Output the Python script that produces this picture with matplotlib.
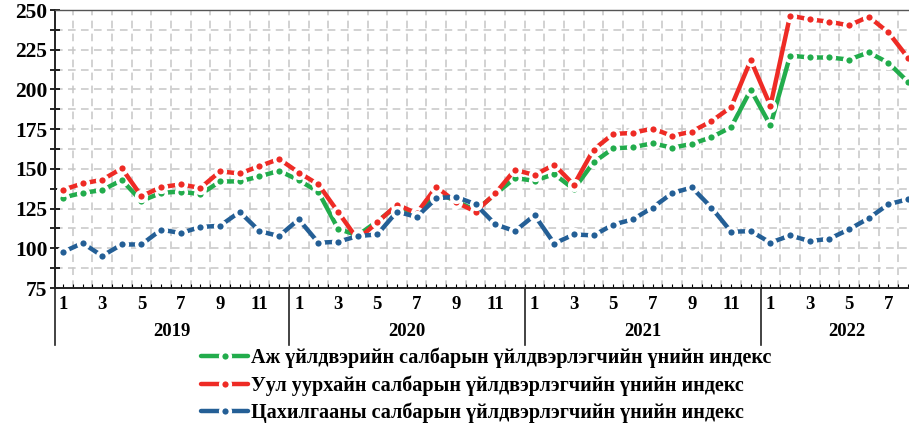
import matplotlib
matplotlib.use("Agg")
import matplotlib.pyplot as plt
import matplotlib.transforms as mtransforms
from matplotlib.lines import Line2D

plt.rcParams['font.family'] = ['Liberation Serif', 'DejaVu Serif']
plt.rcParams['font.weight'] = 'bold'

years = ['2019', '2020', '2021', '2022']
months_per_year = [12, 12, 12, 8]

# index values, Jan 2019 .. Aug 2022
industry = [131.9, 134.9, 136.6, 142.9, 129.8, 134.9, 135.7, 134.0, 142.1, 142.1, 145.2, 148.8,
            142.9, 135.5, 112.3, 108.1, 117.0, 126.7, 121.4, 135.1, 129.8, 123.9, 134.0, 144.2,
            142.5, 146.7, 137.2, 154.1, 162.9, 163.6, 166.1, 163.3, 165.7, 169.9, 176.2, 199.8,
            177.3, 221.3, 220.1, 220.1, 218.8, 223.3, 216.8, 204.7]
mining = [136.8, 140.8, 143.1, 150.3, 132.8, 138.5, 140.2, 138.0, 148.4, 147.1, 151.7, 156.2,
          147.7, 140.2, 122.9, 105.6, 116.3, 127.5, 122.0, 138.7, 129.0, 123.1, 134.5, 149.4,
          146.1, 152.6, 139.9, 162.1, 172.0, 172.6, 175.4, 170.7, 173.5, 180.0, 188.9, 218.4,
          189.7, 246.5, 244.1, 242.6, 240.3, 245.8, 235.9, 219.9]
electricity = [97.6, 103.3, 95.2, 102.4, 102.4, 111.7, 109.6, 113.4, 114.2, 122.9, 110.8, 107.7,
               118.2, 103.5, 104.1, 107.7, 108.7, 123.1, 119.7, 131.5, 132.4, 127.7, 115.1, 110.8,
               120.8, 103.0, 108.7, 108.1, 114.9, 118.2, 125.6, 134.7, 138.3, 125.6, 110.4, 110.8,
               103.5, 108.1, 104.5, 106.0, 111.9, 118.9, 127.7, 130.9]

labels = ['Аж үйлдвэрийн салбарын үйлдвэрлэгчийн үнийн индекс',
          'Уул уурхайн салбарын үйлдвэрлэгчийн үнийн индекс',
          'Цахилгааны салбарын үйлдвэрлэгчийн үнийн индекс']
colors = ['#22ac4c', '#ee2b25', '#245f96']

x = list(range(len(industry)))

fig = plt.figure(figsize=(9.09, 4.24), dpi=100)
ax = fig.add_axes([55 / 909, 1 - 288 / 424, 1 - 55 / 909, (288 - 10) / 424])

for series, label, color in zip([industry, mining, electricity], labels, colors):
    ax.plot(x, series, color=color, lw=3.2, label=label, solid_capstyle='round',
            marker='o', markersize=7.0, markerfacecolor=color,
            markeredgecolor='white', markeredgewidth=2.5, clip_on=False)

ax.set_xlim(-0.4, 43.05)
ax.set_ylim(75, 250)

# y axis
ax.set_yticks(range(75, 251, 25))
ax.set_yticks([87.5 + 25 * i for i in range(7)], minor=True)
ax.tick_params(axis='y', which='both', direction='inout', length=7, width=1.2, labelsize=15.5, pad=2)

# x axis: odd month labels, small ticks every half month
month_pos = []
month_lab = []
i = 0
for n in months_per_year:
    for m in range(1, n + 1):
        if m % 2 == 1:
            month_pos.append(i)
            month_lab.append(str(m))
        i += 1
ax.set_xticks(month_pos)
ax.set_xticklabels(month_lab)
ax.set_xticks([k * 0.5 for k in range(0, 87)], minor=True)
ax.tick_params(axis='x', which='both', direction='in', length=3, width=0.8, labelsize=13.5, pad=6)

# grid
for v in [87.5 + 12.5 * k for k in range(-1, 14)]:
    if 75 < v < 250:
        ax.axhline(v, color='#c6c6c6', lw=1.1, dashes=(5, 3.5), zorder=0)
for k in range(len(x)):
    ax.axvline(k + 0.5, color='#c6c6c6', lw=1.1, dashes=(5, 3.5), zorder=0)

for side in ['left', 'bottom']:
    ax.spines[side].set_linewidth(1.4)
    ax.spines[side].set_color('#222222')
ax.spines['top'].set_linewidth(1.0)
ax.spines['top'].set_color('#555555')
ax.spines['right'].set_visible(False)

# year groups below the axis
trans = mtransforms.blended_transform_factory(ax.transData, ax.transAxes)
sep_bottom = -(345 - 288) / 278
bounds = [-0.4]
start = 0
for n in months_per_year:
    bounds.append(start + n - 0.5)
    start += n
for b in bounds[:-1]:
    ax.add_line(Line2D([b, b], [0, sep_bottom], transform=trans, color='#222222',
                       lw=1.2, clip_on=False))
start = 0
for yr, n in zip(years, months_per_year):
    lo = max(start - 0.5, -0.4)
    hi = start + n - 0.5
    if yr == '2022':
        hi = 44.25
    ax.text((lo + hi) / 2, -(331 - 288) / 278, yr, transform=trans, ha='center',
            va='center', fontsize=13.5)
    start += n

leg = ax.legend(loc='upper center', bbox_to_anchor=(0.505, -(348 - 288) / 278), ncol=1,
                frameon=False, fontsize=14.5, handlelength=2.3, handletextpad=0.15,
                labelspacing=0.34, numpoints=1, borderaxespad=0, borderpad=0)

fig.savefig('out.png', dpi=100)
